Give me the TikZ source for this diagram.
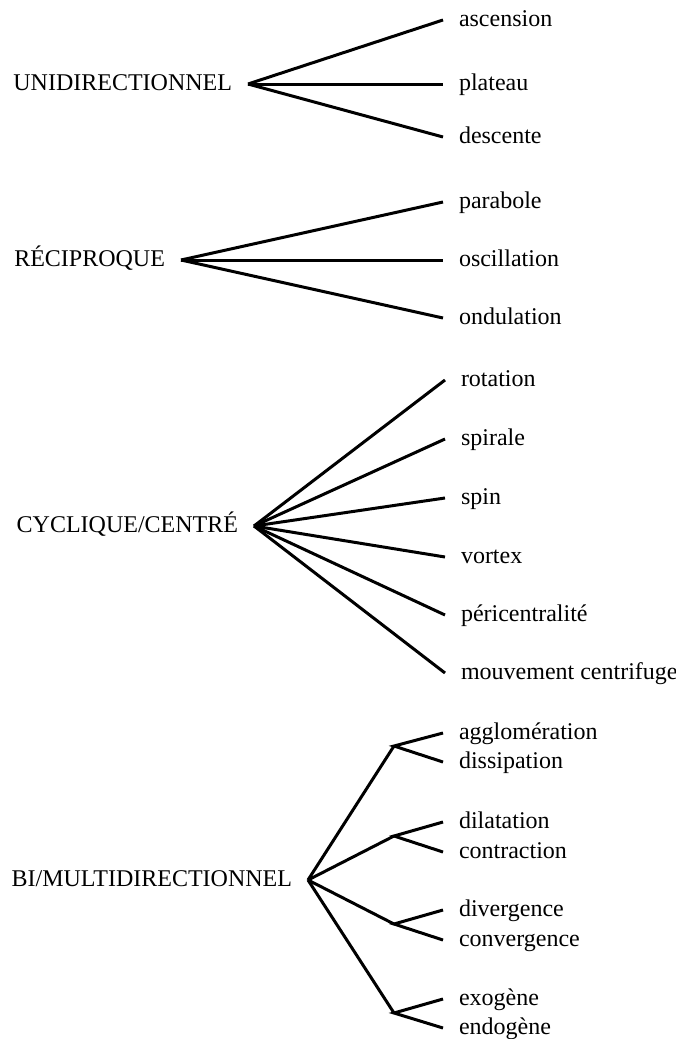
\documentclass[tikz,border=0pt]{standalone}
\usepackage{fontspec}
\setmainfont{Liberation Serif}
\usepackage{tikz}
\usetikzlibrary{positioning}
\tikzset{
x=0.5pt, y=-0.5pt, % one unit = one pixel of the reference, y downwards
}

\begin{document}
\begin{tikzpicture}[font=\fontsize{12}{14}\selectfont, line width=1.5pt,
    cat/.style = {anchor=east, inner sep=0pt, outer sep=8pt, text height=8pt, text depth=2pt},
    leaf/.style = {anchor=west, inner sep=0pt, outer sep=8pt, text height=8pt, text depth=2pt}]
    \useasboundingbox (0,0) rectangle (675,1039);
    % the four families of movement
    \node[cat] (uni) at (248,84) {UNIDIRECTIONNEL};
    \node[cat] (rec) at (181,260) {RÉCIPROQUE};
    \node[cat] (cyc) at (254,526) {CYCLIQUE/CENTRÉ};
    \node[cat] (bi) at (308,880) {BI/MULTIDIRECTIONNEL};

    \node[leaf] (asc) at (443,20) {ascension};
    \node[leaf] (pla) at (443,84) {plateau};
    \node[leaf] (des) at (443,137) {descente};

    \node[leaf] (par) at (443,202) {parabole};
    \node[leaf] (osc) at (443,260) {oscillation};
    \node[leaf] (ond) at (443,318) {ondulation};

    \node[leaf] (rot) at (445,380) {rotation};
    \node[leaf] (spi) at (445,439) {spirale};
    \node[leaf] (spn) at (445,498) {spin};
    \node[leaf] (vor) at (445,557) {vortex};
    \node[leaf] (per) at (445,615) {péricentralité};
    \node[leaf] (mou) at (445,673) {mouvement centrifuge};

    \node[leaf] (agg) at (443,733) {agglomération};
    \node[leaf] (dis) at (443,762) {dissipation};
    \node[leaf] (dil) at (443,822) {dilatation};
    \node[leaf] (con) at (443,852) {contraction};
    \node[leaf] (div) at (443,910) {divergence};
    \node[leaf] (cnv) at (443,940) {convergence};
    \node[leaf] (exo) at (443,999) {exogène};
    \node[leaf] (end) at (443,1028) {endogène};

    \coordinate (b1) at (394,746);
    \coordinate (b2) at (394,836);
    \coordinate (b3) at (394,924);
    \coordinate (b4) at (394,1013);

    \draw (uni.east) -- (asc.west);
    \draw (uni.east) -- (pla.west);
    \draw (uni.east) -- (des.west);

    \draw (rec.east) -- (par.west);
    \draw (rec.east) -- (osc.west);
    \draw (rec.east) -- (ond.west);

    \foreach \n in {rot, spi, spn, vor, per, mou}
        \draw (cyc.east) -- (\n.west);

    \draw (bi.east) -- (b1);
    \draw (bi.east) -- (b2);
    \draw (bi.east) -- (b3);
    \draw (bi.east) -- (b4);
    \draw (agg.west) -- (b1) -- (dis.west);
    \draw (dil.west) -- (b2) -- (con.west);
    \draw (div.west) -- (b3) -- (cnv.west);
    \draw (exo.west) -- (b4) -- (end.west);
\end{tikzpicture}
\end{document}
